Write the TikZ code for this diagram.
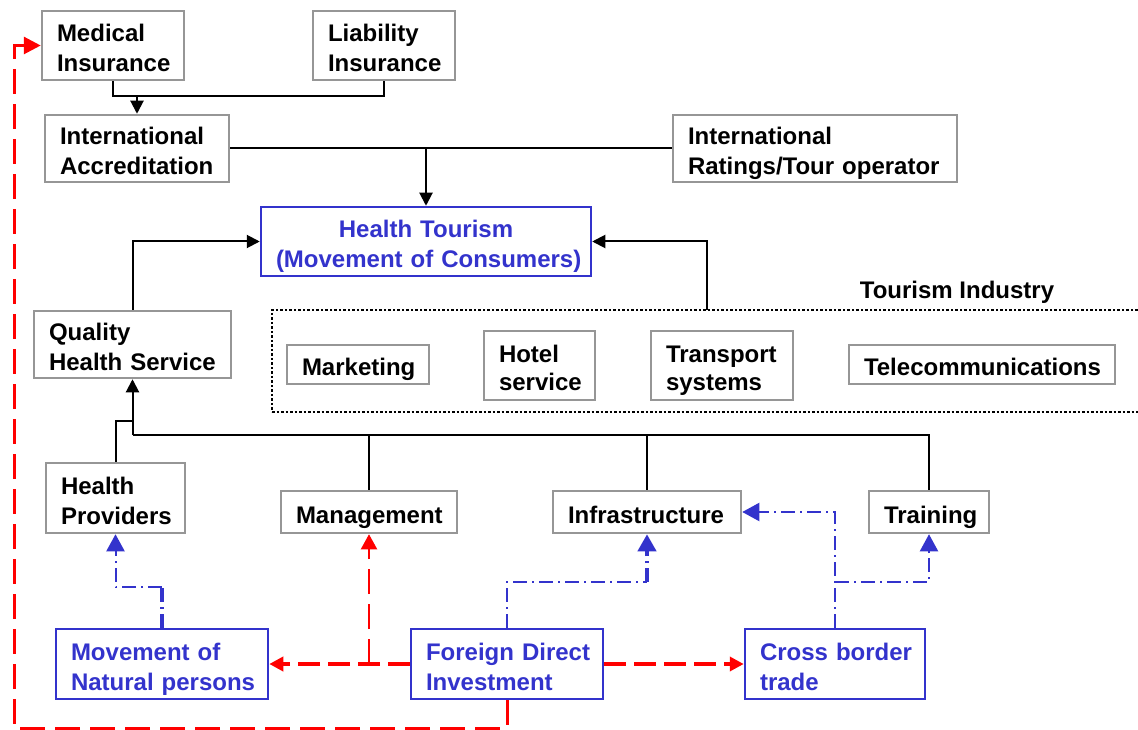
\documentclass[tikz,border=0pt]{standalone}
\usepackage{fontspec}
\setmainfont{Liberation Sans}
\usetikzlibrary{arrows.meta,calc}
\definecolor{bgray}{RGB}{150,150,150}
\definecolor{dblue}{RGB}{51,51,204}
\definecolor{dred}{RGB}{255,0,0}
\newcommand{\bxnode}[7]{%
 \pgfmathsetmacro\bxw{#5-#3}\pgfmathsetmacro\bxh{#6-#4}\pgfmathsetmacro\bxt{#5-#3-30}%
 \pgfmathsetmacro\bxx{(#3+#5)/2}\pgfmathsetmacro\bxy{(#4+#6)/2}%
 \node[#1, minimum width=\bxw pt, minimum height=\bxh pt, text width=\bxt pt] (#2) at (\bxx,\bxy) {#7};}
\tikzset{
 lbl/.style={font=\fontsize{24}{30}\selectfont\bfseries},
 gbox/.style={lbl, draw=bgray, line width=2.5pt, inner xsep=15pt, inner ysep=0pt, align=left, text=black, text height=22pt, text depth=0pt},
 bbox/.style={gbox, draw=dblue, text=dblue},
 two/.style={text depth=30pt},
 blk/.style={draw=black, line width=2pt},
 blkarr/.style={blk, -{Triangle[length=13pt,width=13pt]}},
 bdd/.style={draw=dblue, line width=2pt, dash pattern=on 14pt off 5pt on 2pt off 5pt},
 bddthick/.style={bdd, line width=4pt},
 barr/.style={-{Triangle[length=17pt,width=18pt]}},
 rthick/.style={draw=dred, line width=4pt, dash pattern=on 22pt off 8pt, -{Triangle[length=14pt,width=14pt]}},
 rthin/.style={draw=dred, line width=2.5pt, dash pattern=on 25pt off 10pt},
}
\begin{document}
\begin{tikzpicture}[x=1pt,y=-1pt]
\useasboundingbox (0,0) rectangle (1138,730);
\clip (0,0) rectangle (1138,730);
% boxes
\bxnode{gbox,two}{medI}{42}{11}{184}{80}{\mbox{Medical}\\\mbox{Insurance}}
\bxnode{gbox,two}{liab}{313}{11}{455}{80}{\mbox{Liability}\\\mbox{Insurance}}
\bxnode{gbox,two}{acc}{45}{115}{229}{182}{\mbox{International}\\\mbox{Accreditation}}
\bxnode{gbox,two}{rat}{673}{115}{957}{182}{\mbox{International}\\\mbox{Ratings/Tour operator}}
\bxnode{bbox,two,align=center}{ht}{261}{207}{591}{276}{\mbox{Health Tourism}\\\mbox{(Movement of Consumers)}}
\bxnode{gbox,two}{qual}{34}{311}{231}{378}{\mbox{Quality}\\\mbox{Health Service}}
\node[draw=black, line width=2.5pt, dash pattern=on 2.5pt off 2pt, minimum width=888pt, minimum height=102pt] (tind) at (716,361) {};
\node[lbl] (tlab) at (957,292) {Tourism Industry};
\bxnode{gbox}{mkt}{287}{345}{429}{384}{\mbox{Marketing}}
\bxnode{gbox,two,text depth=28pt,font=\fontsize{24}{28}\selectfont\bfseries}{hotel}{484}{331}{595}{400}{\mbox{Hotel}\\\mbox{service}}
\bxnode{gbox,two,text depth=28pt,font=\fontsize{24}{28}\selectfont\bfseries}{trans}{651}{331}{793}{400}{\mbox{Transport}\\\mbox{systems}}
\bxnode{gbox}{tele}{849}{345}{1115}{384}{\mbox{Telecommunications}}
\bxnode{gbox,two}{hp}{46}{463}{185}{533}{\mbox{Health}\\\mbox{Providers}}
\bxnode{gbox}{mgmt}{281}{491}{457}{533}{\mbox{Management}}
\bxnode{gbox}{infra}{553}{491}{741}{533}{\mbox{Infrastructure}}
\bxnode{gbox}{train}{869}{491}{989}{533}{\mbox{Training}}
\bxnode{bbox,two}{mov}{56}{629}{268}{699}{\mbox{Movement of}\\\mbox{Natural persons}}
\bxnode{bbox,two}{fdi}{411}{629}{603}{699}{\mbox{Foreign Direct}\\\mbox{Investment}}
\bxnode{bbox,two}{cross}{745}{629}{925}{699}{\mbox{Cross border}\\\mbox{trade}}
% coordinates
\coordinate (j1) at ($(acc.north)+(0,-18)$);
\coordinate (tj) at (707,310);
\coordinate (bus) at (132.5,435);
\coordinate (hpj) at (132.5,421);
\coordinate (rc) at (14,728);
\coordinate (mj) at (162,587);
\coordinate (fj) at (647,582);
\coordinate (cj) at (835,582);
% black connectors
\draw[blk] (medI.south) |- (j1) -| (liab.south);
\draw[blkarr] (j1) -- (acc.north);
\draw[blk] (acc.east) -- (rat.west);
\draw[blkarr] (ht.north |- acc.east) -- (ht.north);
\draw[blkarr] (qual.north) |- (ht.west);
\draw[blkarr] (tj) |- (ht.east);
\draw[blk] (hp.north) |- (hpj);
\draw[blkarr] (bus) -- (qual.south);
\draw[blk] (bus) -| (train.north);
\draw[blk] (mgmt.north) -- (mgmt.north |- bus);
\draw[blk] (infra.north) -- (infra.north |- bus);
% blue dash-dot connectors
\draw[bddthick] (mov.north) -- (mj);
\draw[bdd,barr] (mj) -| (hp.south);
\draw[bdd] (fdi.north) |- (fj);
\draw[bddthick,barr] (fj) -- (infra.south);
\draw[bdd,barr] (cross.north) |- (infra.east);
\draw[bdd,barr] (cj) -| (train.south);
% red dashed connectors
\draw[rthick] (fdi.west) -- (mov.east);
\draw[rthick] (fdi.east) -- (cross.west);
\draw[rthin, line width=2pt, -{Triangle[length=15pt,width=16pt]}] (mgmt.south |- fdi.west) -- (mgmt.south);
\draw[rthin, line width=3pt, -{Triangle[length=17pt,width=17pt]}] (fdi.south) |- (rc) |- (medI.west);
\end{tikzpicture}
\end{document}
